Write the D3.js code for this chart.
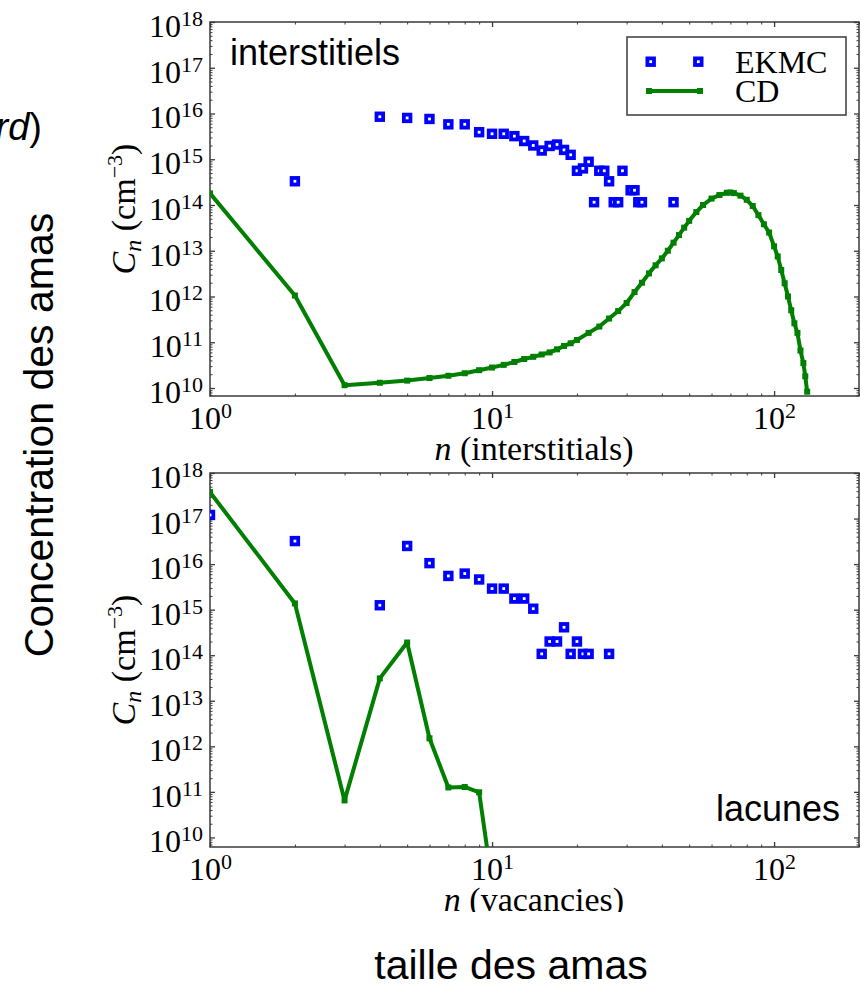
<!DOCTYPE html>
<html>
<head>
<meta charset="utf-8">
<script src="https://cdn.jsdelivr.net/npm/d3@7"></script>
<style>
  body { margin: 0; background: #fff; }
  svg text { font-family: 'Liberation Serif', 'Times New Roman', serif; }
  svg text.sans { font-family: 'Liberation Sans', Arial, sans-serif; }
</style>
</head>
<body>
<div id="chart"></div>
<script>
// interstitials panel
const ekmcIntN = [2, 4, 5, 6, 7, 8, 9, 10, 11, 12, 13, 14, 15, 16, 17, 18, 19, 20, 21, 22, 23, 24, 25, 26, 27, 28, 29, 31, 32, 33, 34, 44]
const ekmcIntC = [3.3e14, 8.5e15, 8e15, 7.6e15, 5.8e15, 5.8e15, 3.9e15, 3.6e15, 3.6e15, 3.2e15, 2.5e15, 2.0e15, 1.55e15, 1.95e15, 2.1e15, 1.6e15,
  1.25e15, 5.6e14, 6.3e14, 8.8e14, 1.15e14, 5.6e14, 5.6e14, 3.3e14, 1.15e14, 1.15e14, 5.6e14, 2.1e14, 2.1e14, 1.15e14, 1.15e14, 1.15e14]
const cdIntN = [1, 2, 3, 4, 5, 6, 7, 8, 9, 10, 11, 12, 13, 14, 15, 16, 17, 18, 19, 20, 22, 24, 26, 28, 30, 32, 34, 36, 38, 40,
  42, 44, 46, 48, 50, 53, 56, 60, 64, 68, 70, 72, 76, 80, 84, 88, 92, 96, 100, 103, 106, 109, 112, 115, 118, 121, 124, 127, 129, 131]
const cdIntC = [1.8e14, 1.05e12, 1.15e10, 1.3e10, 1.45e10, 1.65e10, 1.85e10, 2.1e10, 2.45e10, 2.8e10, 3.2e10, 3.7e10, 4.3e10, 4.8e10, 5.4e10,
  6.0e10, 7.0e10, 8.3e10, 9.5e10, 1.12e11, 1.6e11, 2.2e11, 3.3e11, 4.8e11, 7.2e11, 1.25e12, 2.0e12, 3.2e12, 4.8e12, 6.8e12,
  1.0e13, 1.5e13, 2.2e13, 3.2e13, 4.5e13, 7.0e13, 1.0e14, 1.38e14, 1.65e14, 1.85e14, 1.88e14, 1.82e14, 1.6e14, 1.3e14, 9.5e13,
  6.0e13, 3.8e13, 2.5e13, 1.25e13, 7.5e12, 3.8e12, 1.95e12, 1.0e12, 5.0e11, 2.6e11, 1.6e11, 6.6e10, 3.5e10, 1.8e10, 8.3e9]

// vacancies panel
const ekmcVacN = [1, 2, 4, 5, 6, 7, 8, 9, 10, 11, 12, 13, 14, 15, 16, 17, 18, 19, 20, 21, 22, 26]
const ekmcVacC = [1.2e17, 3.2e16, 1.25e15, 2.5e16, 1.05e16, 5.5e15, 6.2e15, 4.6e15, 2.9e15, 2.9e15, 1.75e15, 1.75e15, 1.05e15,
  1.07e14, 2.0e14, 2.0e14, 4.1e14, 1.07e14, 2.0e14, 1.07e14, 1.07e14, 1.07e14]
const cdVacN = [1, 2, 3, 4, 5, 6, 7, 8, 9, 10]
const cdVacC = [3.8e17, 1.37e15, 6.5e10, 3.1e13, 1.9e14, 1.5e12, 1.25e11, 1.28e11, 9.8e10, 1e9]

const xMajor = [1, 10, 100]
const xMinor = [2, 3, 4, 5, 6, 7, 8, 9, 20, 30, 40, 50, 60, 70, 80, 90, 200]
const yMajor = [1e10, 1e11, 1e12, 1e13, 1e14, 1e15, 1e16, 1e17, 1e18]
const seriesNames = ['EKMC', 'CD']

const width = 861
const height = 985
const blue = '#0000ff'
const green = '#007f00'
const axisColor = '#3a3a3a'

const svg = d3.select('#chart').append('svg')
  .attr('width', width)
  .attr('height', height)

function drawPanel(p) {
  const x = d3.scaleLog().domain([1, 200]).range([210, 859])
  const y = d3.scaleLog().domain(p.yDomain).range([p.bottom, p.top])
  const yMinor = []
  for (let e = 9; e < 18; e++) {
    for (let k = 2; k <= 9; k++) {
      const v = k * Math.pow(10, e)
      if (v >= p.yDomain[0] && v <= p.yDomain[1]) yMinor.push(v)
    }
  }

  const g = svg.append('g')
  g.append('clipPath').attr('id', p.id + '-clip')
    .append('rect')
    .attr('x', 210).attr('y', p.top)
    .attr('width', 859 - 210).attr('height', p.bottom - p.top)

  // ticks, pointing inward
  const axes = [
    [d3.axisBottom(x), 'translate(0,' + p.bottom + ')', xMajor, xMinor],
    [d3.axisTop(x), 'translate(0,' + p.top + ')', xMajor, xMinor],
    [d3.axisLeft(y), 'translate(210,0)', yMajor, yMinor],
    [d3.axisRight(y), 'translate(859,0)', yMajor, yMinor]
  ]
  axes.forEach(([ax, tr, major, minor], i) => {
    g.append('g').attr('transform', tr).attr('color', axisColor)
      .call(ax.tickValues(minor).tickSizeInner(-2.5).tickSizeOuter(0).tickFormat(''))
      .call(s => s.select('.domain').remove())
    const gm = g.append('g').attr('transform', tr).attr('color', axisColor)
      .call(ax.tickValues(major).tickSizeInner(-5).tickSizeOuter(0).tickFormat(i === 0 || i === 2 ? () => '10' : ''))
      .call(s => s.select('.domain').remove())
    gm.selectAll('.tick line').attr('stroke-width', 1.3)
    gm.selectAll('.tick text')
      .attr('fill', '#000')
      .attr('font-size', 32)
      .attr('font-family', "'Liberation Serif', serif")
      .each(function(d) {
        const t = d3.select(this)
        if (i === 0) t.attr('y', 33).attr('dy', 0).attr('x', 0)
        if (i === 2) t.attr('x', -7).attr('dy', 14.5)
        if (i === 0 || i === 2) {
          t.append('tspan').attr('dy', -11).attr('font-size', 22).text(Math.round(Math.log10(d)))
        }
      })
  })

  g.append('rect')
    .attr('x', 210).attr('y', p.top)
    .attr('width', 859 - 210).attr('height', p.bottom - p.top)
    .attr('fill', 'none')
    .attr('stroke', axisColor)
    .attr('stroke-width', 1.5)

  const plot = g.append('g').attr('clip-path', 'url(#' + p.id + '-clip)')

  const cd = p.cdN.map((n, i) => ({n: n, c: p.cdC[i]}))
  plot.append('path')
    .datum(cd)
    .attr('fill', 'none')
    .attr('stroke', green)
    .attr('stroke-width', 4)
    .attr('stroke-linejoin', 'round')
    .attr('d', d3.line().x(d => x(d.n)).y(d => y(d.c)))
  plot.selectAll('.cdpt').data(cd).enter().append('rect')
    .attr('class', 'cdpt')
    .attr('x', d => x(d.n) - 3)
    .attr('y', d => y(d.c) - 3)
    .attr('width', 6).attr('height', 6)
    .attr('fill', green)

  const ekmc = p.ekmcN.map((n, i) => ({n: n, c: p.ekmcC[i]}))
  plot.selectAll('.ekmc').data(ekmc).enter().append('rect')
    .attr('class', 'ekmc')
    .attr('x', d => x(d.n) - 3.3)
    .attr('y', d => y(d.c) - 3.3)
    .attr('width', 6.6).attr('height', 6.6)
    .attr('fill', '#fff')
    .attr('stroke', blue)
    .attr('stroke-width', 3.8)

  // y axis title
  const yt = g.append('text')
    .attr('transform', 'translate(135,' + ((p.top + p.bottom) / 2) + ') rotate(-90)')
    .attr('text-anchor', 'middle')
    .attr('font-size', 34)
  yt.append('tspan').attr('font-style', 'italic').text('C')
  yt.append('tspan').attr('font-style', 'italic').attr('font-size', 24).attr('dy', 6).text('n')
  yt.append('tspan').attr('dy', -6).text(' (cm')
  yt.append('tspan').attr('font-size', 22).attr('dy', -13).text('\u22123')
  yt.append('tspan').attr('dy', 13).text(')')

  // x axis title
  if (p.clipTitle) {
    g.append('clipPath').attr('id', p.id + '-tclip')
      .append('rect').attr('x', 0).attr('y', 0).attr('width', width).attr('height', p.clipTitle)
  }
  const xt = g.append('text')
    .attr('x', 534).attr('y', p.bottom + 64)
    .attr('text-anchor', 'middle')
    .attr('font-size', 34)
  if (p.clipTitle) xt.attr('clip-path', 'url(#' + p.id + '-tclip)')
  xt.append('tspan').attr('font-style', 'italic').text('n')
  xt.append('tspan').text(' (' + p.xName + ')')

  g.append('text')
    .attr('class', 'sans')
    .attr('x', p.tagX).attr('y', p.tagY)
    .attr('text-anchor', p.tagAnchor)
    .attr('font-size', 36)
    .text(p.tag)

  return {x: x, y: y, g: g}
}

drawPanel({
  id: 'inter', top: 22, bottom: 396, yDomain: [Math.pow(10, 9.825), 1e18],
  ekmcN: ekmcIntN, ekmcC: ekmcIntC, cdN: cdIntN, cdC: cdIntC,
  xName: 'interstitials', tag: 'interstitiels', tagX: 230, tagY: 65, tagAnchor: 'start'
})
drawPanel({
  id: 'vac', top: 473, bottom: 847, yDomain: [Math.pow(10, 9.79), 1e18],
  ekmcN: ekmcVacN, ekmcC: ekmcVacC, cdN: cdVacN, cdC: cdVacC,
  xName: 'vacancies', tag: 'lacunes', tagX: 840, tagY: 821, tagAnchor: 'end', clipTitle: 912
})

// legend
const legend = svg.append('g')
legend.append('rect')
  .attr('x', 627).attr('y', 37).attr('width', 219).attr('height', 78)
  .attr('fill', '#fff').attr('stroke', axisColor).attr('stroke-width', 1.5)
;[650.7, 698.3].forEach(lx => {
  legend.append('rect')
    .attr('x', lx - 3.3).attr('y', 61.7 - 3.3).attr('width', 6.6).attr('height', 6.6)
    .attr('fill', '#fff').attr('stroke', blue).attr('stroke-width', 3.8)
})
legend.append('line')
  .attr('x1', 649).attr('x2', 700).attr('y1', 91).attr('y2', 91)
  .attr('stroke', green).attr('stroke-width', 4)
;[649, 700].forEach(lx => {
  legend.append('rect').attr('x', lx - 3).attr('y', 88).attr('width', 6).attr('height', 6).attr('fill', green)
})
legend.selectAll('.lt').data(seriesNames).enter().append('text')
  .attr('class', 'lt')
  .attr('x', 735)
  .attr('y', (d, i) => 73 + i * 29)
  .attr('font-size', 32)
  .text(d => d)

// outer titles
svg.append('text')
  .attr('class', 'sans')
  .attr('transform', 'translate(53,435) rotate(-90)')
  .attr('text-anchor', 'middle')
  .attr('font-size', 41)
  .text('Concentration des amas')

svg.append('text')
  .attr('class', 'sans')
  .attr('x', 511).attr('y', 979)
  .attr('text-anchor', 'middle')
  .attr('font-size', 41)
  .text('taille des amas')

const partial = svg.append('text')
  .attr('class', 'sans')
  .attr('x', 42).attr('y', 140)
  .attr('text-anchor', 'end')
  .attr('font-size', 38)
partial.append('tspan').attr('font-style', 'italic').text('rd')
partial.append('tspan').text(')')
</script>
</body>
</html>
